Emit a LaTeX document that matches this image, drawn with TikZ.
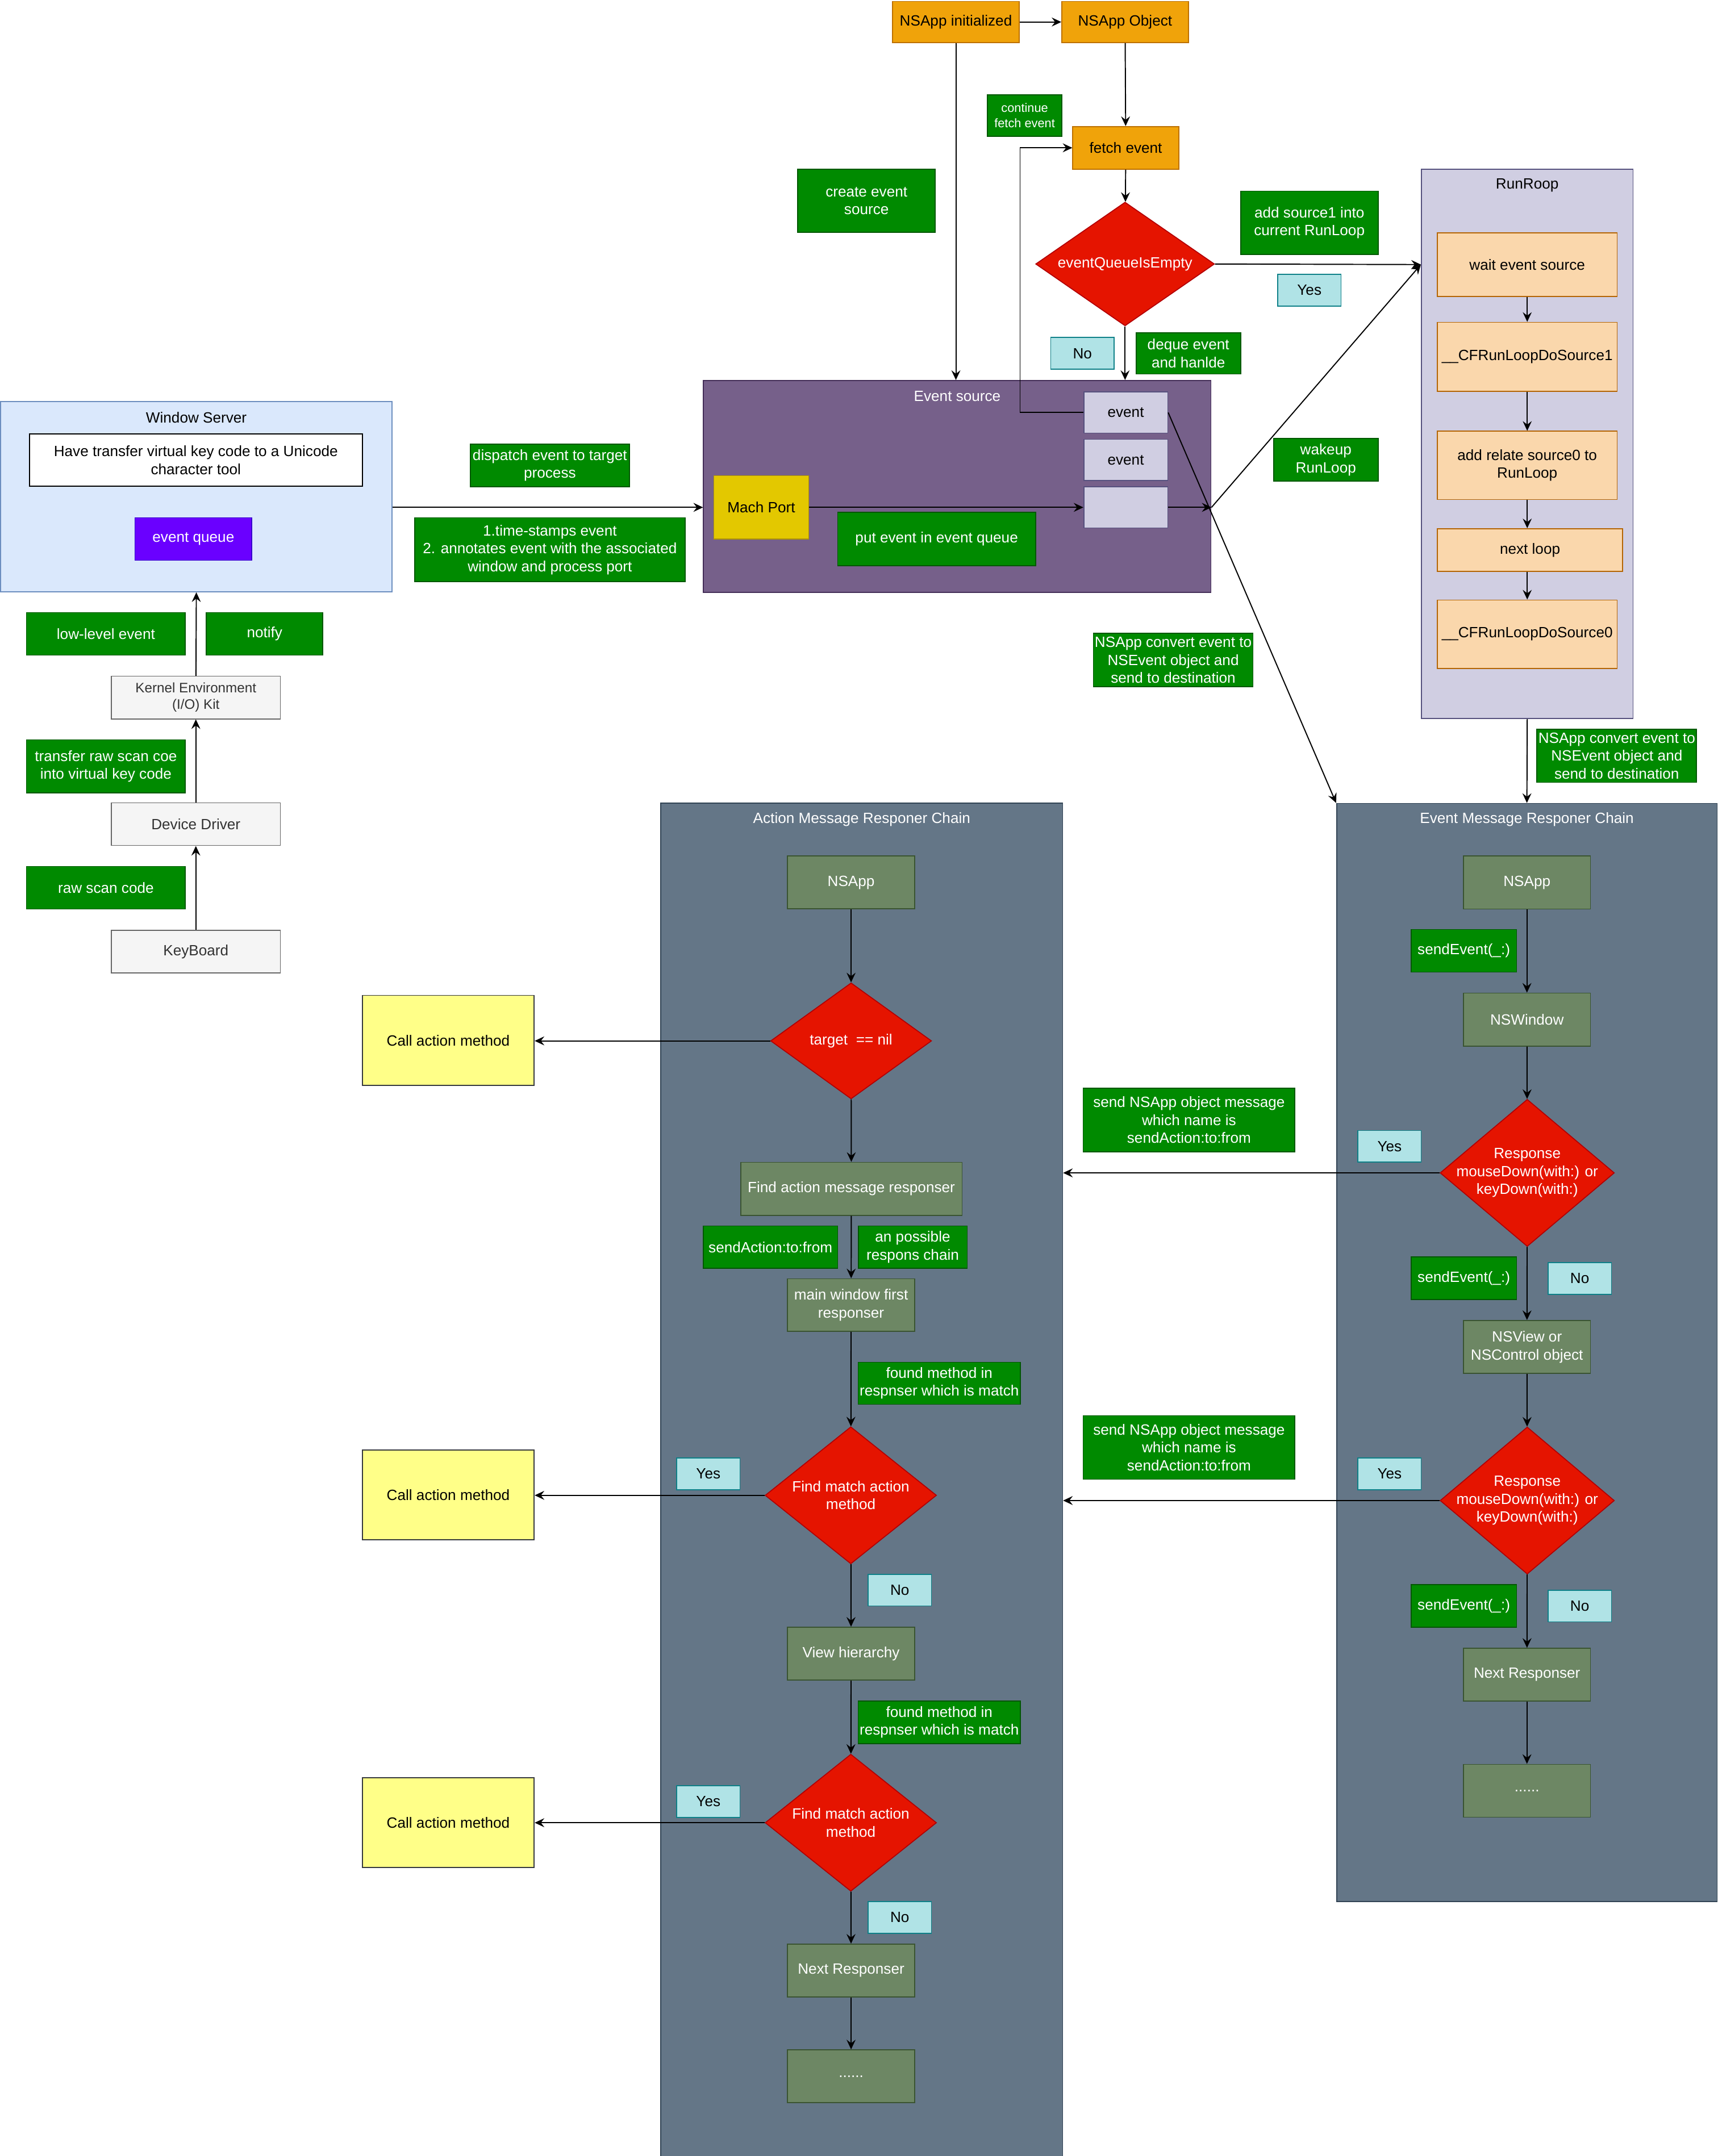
\documentclass[tikz,border=0pt]{standalone}
\usepackage{fontspec}
\setmainfont{Liberation Sans}
\usetikzlibrary{shapes.geometric,arrows.meta}

\definecolor{lblfill}{HTML}{008A00}
\definecolor{lbldraw}{HTML}{005700}
\definecolor{ynfill}{HTML}{B0E3E6}
\definecolor{yndraw}{HTML}{0E8088}
\definecolor{orgfill}{HTML}{F0A30A}
\definecolor{orgdraw}{HTML}{BD7000}
\definecolor{decfill}{HTML}{E51400}
\definecolor{decdraw}{HTML}{B20000}
\definecolor{esfill}{HTML}{76608A}
\definecolor{esdraw}{HTML}{432D57}
\definecolor{lavfill}{HTML}{D0CEE2}
\definecolor{lavdraw}{HTML}{56517E}
\definecolor{machfill}{HTML}{E3C800}
\definecolor{machdraw}{HTML}{B09500}
\definecolor{peachfill}{HTML}{FAD7AC}
\definecolor{peachdraw}{HTML}{B46504}
\definecolor{chainfill}{HTML}{647687}
\definecolor{chaindraw}{HTML}{314354}
\definecolor{respfill}{HTML}{6D8764}
\definecolor{respdraw}{HTML}{3A5431}
\definecolor{callfill}{HTML}{FFFF88}
\definecolor{calldraw}{HTML}{36393D}
\definecolor{hwfill}{HTML}{F5F5F5}
\definecolor{hwdraw}{HTML}{666666}
\definecolor{hwtext}{HTML}{333333}
\definecolor{wsfill}{HTML}{DAE8FC}
\definecolor{wsdraw}{HTML}{6C8EBF}
\definecolor{eqfill}{HTML}{6A00FF}
\definecolor{eqdraw}{HTML}{3700CC}

\newcommand{\fs}{\fontsize{10.8}{13}\selectfont}
\newcommand{\fss}{\fontsize{9}{11}\selectfont}

\tikzset{
  nbox/.style={draw, line width=0.7pt, inner sep=1pt, align=center, font=\fs},
  wh/.style 2 args={minimum width=#1pt, minimum height=#2pt},
  lbl/.style={nbox, fill=lblfill, draw=lbldraw, text=white},
  yn/.style={nbox, fill=ynfill, draw=yndraw, wh={46}{23}},
  app/.style={nbox, fill=orgfill, draw=orgdraw},
  resp/.style={nbox, fill=respfill, draw=respdraw, text=white},
  hw/.style={nbox, fill=hwfill, draw=hwdraw, text=hwtext, wh={123}{31}},
  callm/.style={nbox, fill=callfill, draw=calldraw, wh={125}{65.3}},
  peach/.style={nbox, fill=peachfill, draw=peachdraw},
  evbox/.style={nbox, fill=lavfill, draw=lavdraw, wh={61}{30}},
  dec/.style={diamond, draw=decdraw, fill=decfill, line width=0.7pt, inner sep=0pt},
  dectext/.style={text=white, align=center, font=\fs},
  grp/.style={draw, line width=0.7pt, inner sep=0pt},
  ttl/.style={font=\fs, inner sep=1pt},
  arr/.style={-{Stealth[length=7pt,width=6.5pt,inset=2.5pt]}, line width=0.8pt},
}

\begin{document}
\begin{tikzpicture}[x=1pt, y=-1pt]
  \useasboundingbox (0,0) rectangle (1249,1568);

  % containers
  \node[grp, fill=wsfill, draw=wsdraw, wh={284.5}{138.5}] (ws) at (142.75,361.2) {};
  \node[ttl] (wstitle) at ([yshift=-12pt]ws.north) {Window Server};
  \node[grp, fill=esfill, draw=esdraw, wh={369}{154}] (es) at (696,353.7) {};
  \node[ttl, text=white] (estitle) at ([yshift=-12pt]es.north) {Event source};
  \node[grp, fill=lavfill, draw=lavdraw, wh={154}{399.4}] (rr) at (1110.4,322.9) {};
  \node[ttl] (rrtitle) at ([yshift=-12pt]rr.north) {RunRoop};
  \node[grp, fill=chainfill, draw=chaindraw, wh={292.1}{984.3}] (amc) at (626.55,1076.35) {};
  \node[ttl, text=white] (amctitle) at ([yshift=-12pt]amc.north) {Action Message Responer Chain};
  \node[grp, fill=chainfill, draw=chaindraw, wh={276.7}{798.6}] (emc) at (1110.15,983.6) {};
  \node[ttl, text=white] (emctitle) at ([yshift=-12pt]emc.north) {Event Message Responer Chain};

  % top
  \node[app, wh={92}{30}] (init) at (695,16) {NSApp initialized};
  \node[app, wh={92}{30}] (obj) at (818,16) {NSApp Object};
  \node[lbl, font=\fss, wh={54}{30}] (cont) at (745,84) {continue\\fetch event};
  \node[app, wh={77}{31}] (fetch) at (818.5,107.5) {fetch event};
  \node[lbl, wh={100}{46}] (ces) at (630,146) {create event\\source};
  \node[dec, wh={130}{90}, label={[dectext]center:eventQueueIsEmpty}] (q) at (818,192) {};
  \node[lbl, wh={100}{46}] (adds) at (952,162) {add source1 into\\current RunLoop};
  \node[yn] (yes1) at (952,211) {Yes};
  \node[yn] (no1) at (787,257) {No};
  \node[lbl, wh={76}{30}] (deq) at (864,257) {deque event\\and hanlde};

  % event source
  \node[evbox] (ev1) at (818.5,300) {event};
  \node[evbox] (ev2) at (818.5,334.5) {event};
  \node[evbox] (ev3) at (818.5,369) {};
  \node[nbox, fill=machfill, draw=machdraw, wh={69}{46}] (mach) at (553.5,369) {Mach Port};
  \node[lbl, wh={144}{39}] (put) at (681,392) {put event in event queue};
  \node[lbl, wh={76}{31}] (wake) at (964,334.5) {wakeup\\RunLoop};
  \node[lbl, wh={115}{39}] (conv1) at (853,480) {NSApp convert event to\\NSEvent object and\\send to destination};
  \coordinate (esr) at (ev3.east -| es.east);

  % window server and hardware
  \node[nbox, fill=white, draw=black, wh={242}{38}] (have) at (142.4,334.6) {Have transfer virtual key code to a Unicode\\character tool};
  \node[nbox, fill=eqfill, draw=eqdraw, text=white, wh={85}{31}] (eq) at (140.6,392) {event queue};
  \node[lbl, wh={115.5}{31}] (disp) at (399.8,338.4) {dispatch event to target\\process};
  \node[lbl, wh={196.5}{46.5}] (ts) at (399.8,399.8) {1.time-stamps event\\2. annotates event with the associated\\window and process port};
  \node[lbl, wh={115.5}{31}] (low) at (77,461) {low-level event};
  \node[lbl, wh={84.7}{31}] (notify) at (192.4,461) {notify};
  \node[hw, font=\fontsize{10}{12}\selectfont] (kern) at (142.4,507.3) {Kernel Environment\\(I/O) Kit};
  \node[lbl, wh={115.5}{38.6}] (trans) at (77,557.3) {transfer raw scan coe\\into virtual key code};
  \node[hw] (dd) at (142.4,599.4) {Device Driver};
  \node[lbl, wh={115.5}{31}] (raw) at (77,645.6) {raw scan code};
  \node[hw] (kb) at (142.4,692) {KeyBoard};

  % run loop
  \node[peach, wh={130.8}{46.3}] (wait) at (1110.4,192.4) {wait event source};
  \node[peach, wh={130.8}{50.2}] (s1) at (1110.4,259.5) {\_\_CFRunLoopDoSource1};
  \node[peach, wh={130.8}{49.7}] (addr) at (1110.4,338.5) {add relate source0 to\\RunLoop};
  \node[peach, wh={134.7}{31}] (nl) at (1112.4,400) {next loop};
  \node[peach, wh={130.8}{49.7}] (s0) at (1110.4,461.2) {\_\_CFRunLoopDoSource0};
  \node[lbl, wh={115.8}{38.6}] (conv2) at (1175.5,549.7) {NSApp convert event to\\NSEvent object and\\send to destination};

  % event message chain
  \node[resp, wh={92.3}{38.5}] (enap) at (1110.2,641.8) {NSApp};
  \node[lbl, wh={76.7}{31}] (se1) at (1064.3,691.5) {sendEvent(\_:)};
  \node[resp, wh={92.3}{38.5}] (nswin) at (1110.2,741.5) {NSWindow};
  \node[dec, wh={126.7}{107}, label={[dectext]center:Response\\mouseDown(with:) or\\keyDown(with:)}] (r1) at (1110.4,853) {};
  \node[yn] (yes2) at (1010.3,833.7) {Yes};
  \node[lbl, wh={154}{46.3}] (sna1) at (864.5,814.5) {send NSApp object message\\which name is\\sendAction:to:from};
  \node[lbl, wh={76.7}{31}] (se2) at (1064.3,929.5) {sendEvent(\_:)};
  \node[yn] (no2) at (1148.6,929.8) {No};
  \node[resp, wh={92.3}{38.5}] (nsv) at (1110.2,979.6) {NSView or\\NSControl object};
  \node[dec, wh={126.7}{107}, label={[dectext]center:Response\\mouseDown(with:) or\\keyDown(with:)}] (r2) at (1110.4,1091.3) {};
  \node[yn] (yes3) at (1010.3,1071.9) {Yes};
  \node[lbl, wh={154}{46.3}] (sna2) at (864.5,1052.7) {send NSApp object message\\which name is\\sendAction:to:from};
  \node[lbl, wh={76.7}{31}] (se3) at (1064.3,1168) {sendEvent(\_:)};
  \node[yn] (no3) at (1148.6,1168) {No};
  \node[resp, wh={92.3}{38.5}] (nr2) at (1110.2,1218) {Next Responser};
  \node[resp, wh={92.3}{38.5}] (dots2) at (1110.2,1302.4) {......};

  % action message chain
  \node[resp, wh={92.5}{38.4}] (anap) at (618.8,641.8) {NSApp};
  \node[dec, wh={117}{84.4}, label={[dectext]center:target\ \ == nil}] (tn) at (618.8,757) {};
  \node[callm] (call1) at (325.9,756.6) {Call action method};
  \node[resp, wh={161}{38.5}] (far) at (619,864.6) {Find action message responser};
  \node[lbl, wh={97.8}{30.7}] (sat) at (560.2,907) {sendAction:to:from};
  \node[lbl, wh={79.2}{30.7}] (apr) at (663.6,907) {an possible\\respons chain};
  \node[resp, wh={92.5}{38.2}] (mwf) at (618.8,949.1) {main window first\\responser};
  \node[lbl, wh={117.8}{30.5}] (fm1) at (682.9,1006) {found method in\\respnser which is match};
  \node[dec, wh={124.6}{99.7}, label={[dectext]center:Find match action\\method}] (d1) at (618.6,1087.5) {};
  \node[yn] (yes4) at (515,1071.9) {Yes};
  \node[callm] (call2) at (325.9,1087.3) {Call action method};
  \node[yn] (no4) at (654.2,1156.4) {No};
  \node[resp, wh={92.5}{38.4}] (vh) at (618.8,1202.6) {View hierarchy};
  \node[lbl, wh={117.8}{31}] (fm2) at (682.9,1252.6) {found method in\\respnser which is match};
  \node[dec, wh={124.6}{99.7}, label={[dectext]center:Find match action\\method}] (d2) at (618.6,1325.6) {};
  \node[yn] (yes5) at (515,1310.2) {Yes};
  \node[callm] (call3) at (325.9,1325.5) {Call action method};
  \node[yn] (no5) at (654.2,1394.5) {No};
  \node[resp, wh={92.5}{38.4}] (nr1) at (618.8,1433.1) {Next Responser};
  \node[resp, wh={92.5}{38.4}] (dots1) at (618.8,1510) {......};

  % connectors
  \draw[arr] (init) -- (obj);
  \draw[arr] (init.south) -- (init.south |- es.north);
  \draw[arr] (obj) -- (fetch);
  \draw[arr] (fetch) -- (q);
  \draw[arr] (q.east) -- (wait.west -| rr.west);
  \draw[arr] (q.south) -- (q.south |- es.north);
  \draw[arr] (ev1.west) -- ++(-46,0) |- (fetch.west);
  \draw[arr] (mach.west -| ws.east) -- (mach.west -| es.west);
  \draw[arr] (mach) -- (ev3);
  \draw[arr] (ev3) -- (esr);
  \draw[arr] (esr) -- (wait.west -| rr.west);
  \draw[arr] (ev1.east) -- (emc.north west);
  \draw[arr] (rr.south) -- (emc.north);
  \draw[arr] (wait) -- (s1);
  \draw[arr] (s1) -- (addr);
  \draw[arr] (addr.south) -- (addr.south |- nl.north);
  \draw[arr] (nl.south -| s0.north) -- (s0.north);
  \draw[arr] (kern) -- (ws.south);
  \draw[arr] (dd) -- (kern);
  \draw[arr] (kb) -- (dd);

  \draw[arr] (enap) -- (nswin);
  \draw[arr] (nswin) -- (r1);
  \draw[arr] (r1.west) -- (r1.west -| amc.east);
  \draw[arr] (r1) -- (nsv);
  \draw[arr] (nsv) -- (r2);
  \draw[arr] (r2.west) -- (r2.west -| amc.east);
  \draw[arr] (r2) -- (nr2);
  \draw[arr] (nr2) -- (dots2);

  \draw[arr] (anap) -- (tn);
  \draw[arr] (tn.west) -- (tn.west -| call1.east);
  \draw[arr] (tn) -- (far);
  \draw[arr] (far) -- (mwf);
  \draw[arr] (mwf) -- (d1);
  \draw[arr] (d1.west) -- (d1.west -| call2.east);
  \draw[arr] (d1) -- (vh);
  \draw[arr] (vh) -- (d2);
  \draw[arr] (d2.west) -- (d2.west -| call3.east);
  \draw[arr] (d2) -- (nr1);
  \draw[arr] (nr1) -- (dots1);
\end{tikzpicture}
\end{document}
